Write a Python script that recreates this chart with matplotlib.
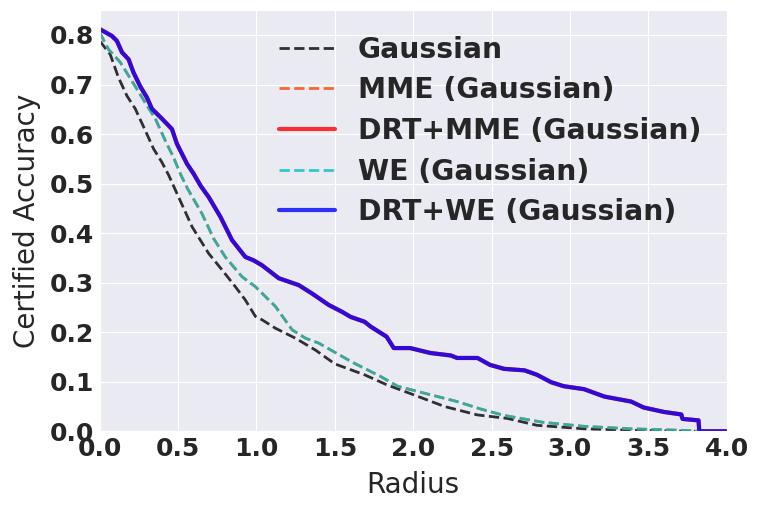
import matplotlib
matplotlib.use("Agg")
import matplotlib.pyplot as plt
import seaborn as sns

sns.set_style("darkgrid")
plt.rcParams['font.family'] = ['DejaVu Sans']

# Data (radius, certified accuracy)
gauss_r = [0.0, 0.067, 0.12, 0.174, 0.227, 0.291, 0.344, 0.397, 0.44, 0.503, 0.589, 0.695, 0.78, 0.865, 0.929, 0.993, 1.036, 1.121, 1.248, 1.376, 1.50, 1.69, 1.83, 2.00, 2.20, 2.41, 2.60, 2.79, 3.09, 3.40, 3.80]
gauss_a = [0.788, 0.761, 0.714, 0.677, 0.651, 0.607, 0.570, 0.543, 0.517, 0.473, 0.413, 0.359, 0.326, 0.292, 0.265, 0.232, 0.225, 0.208, 0.188, 0.164, 0.136, 0.114, 0.094, 0.074, 0.050, 0.033, 0.026, 0.012, 0.005, 0.002, 0.0]

we_r = [0.0, 0.056, 0.131, 0.184, 0.237, 0.301, 0.355, 0.418, 0.471, 0.514, 0.56, 0.653, 0.727, 0.801, 0.908, 0.993, 1.057, 1.121, 1.227, 1.312, 1.397, 1.547, 1.62, 1.79, 1.90, 2.07, 2.28, 2.43, 2.58, 2.83, 3.09, 3.39, 3.71, 3.85]
we_a = [0.805, 0.771, 0.745, 0.718, 0.691, 0.658, 0.631, 0.587, 0.553, 0.520, 0.490, 0.439, 0.389, 0.352, 0.312, 0.292, 0.272, 0.252, 0.205, 0.188, 0.178, 0.151, 0.138, 0.111, 0.091, 0.077, 0.060, 0.045, 0.032, 0.018, 0.010, 0.005, 0.002, 0.0]

mme_r = we_r
mme_a = we_a

drt_r = [0.0, 0.078, 0.11, 0.142, 0.184, 0.216, 0.259, 0.301, 0.333, 0.397, 0.461, 0.493, 0.557, 0.599, 0.645, 0.695, 0.77, 0.844, 0.929, 0.982, 1.036, 1.142, 1.27, 1.355, 1.461, 1.547, 1.60, 1.69, 1.73, 1.83, 1.876, 1.98, 2.11, 2.24, 2.28, 2.41, 2.49, 2.58, 2.71, 2.79, 2.88, 2.96, 3.09, 3.22, 3.39, 3.47, 3.60, 3.71, 3.718, 3.82, 3.825, 4.0]
drt_a = [0.812, 0.798, 0.788, 0.765, 0.751, 0.724, 0.696, 0.674, 0.651, 0.631, 0.610, 0.580, 0.540, 0.520, 0.495, 0.473, 0.433, 0.386, 0.352, 0.345, 0.335, 0.309, 0.295, 0.278, 0.255, 0.241, 0.231, 0.221, 0.211, 0.191, 0.168, 0.168, 0.158, 0.153, 0.148, 0.148, 0.134, 0.126, 0.123, 0.114, 0.099, 0.091, 0.085, 0.070, 0.060, 0.048, 0.039, 0.034, 0.025, 0.022, 0.0, 0.0]

drt_mme_r = drt_r
drt_mme_a = drt_a

labels = ["Gaussian", "MME (Gaussian)", "DRT+MME (Gaussian)", "WE (Gaussian)", "DRT+WE (Gaussian)"]

fig = plt.figure(figsize=(7.61, 5.11), dpi=100)
ax = fig.add_axes([0.131, 0.156, 0.824, 0.824])

ax.plot(gauss_r, gauss_a, color='black', ls='--', lw=2, alpha=0.8, label=labels[0])
ax.plot(mme_r, mme_a, color='orangered', ls='--', lw=2, alpha=0.8, label=labels[1])
ax.plot(drt_mme_r, drt_mme_a, color='red', ls='-', lw=3, alpha=0.8, label=labels[2])
ax.plot(we_r, we_a, color='c', ls='--', lw=2, alpha=0.8, label=labels[3])
ax.plot(drt_r, drt_a, color='blue', ls='-', lw=3, alpha=0.8, label=labels[4])

ax.set_xlim(0, 4)
ax.set_ylim(0, 0.85)
ax.set_xticks([0.0, 0.5, 1.0, 1.5, 2.0, 2.5, 3.0, 3.5, 4.0])
ax.set_yticks([0.0, 0.1, 0.2, 0.3, 0.4, 0.5, 0.6, 0.7, 0.8])
for t in ax.get_xticklabels() + ax.get_yticklabels():
    t.set_fontweight('bold')
    t.set_fontsize(18)
ax.tick_params(axis='both', length=0, pad=4)
ax.set_xlabel("Radius", fontsize=20, labelpad=7)
ax.set_ylabel("Certified Accuracy", fontsize=20, labelpad=6)

ax.legend(loc='upper right', frameon=False, prop={'weight': 'bold', 'size': 20.3}, labelspacing=0.45)

fig.savefig("out.png", dpi=100)
